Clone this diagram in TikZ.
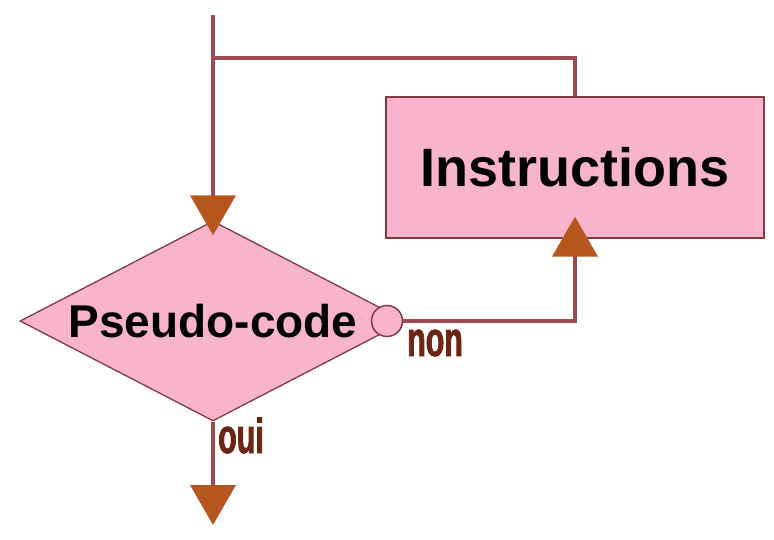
\documentclass[tikz,border=0pt]{standalone}
\usepackage{fontspec}
\setmainfont{Liberation Sans}
\newfontfamily\labelfont[FakeStretch=0.62,FakeBold=1.6]{Liberation Sans Bold}
\usetikzlibrary{shapes.geometric,arrows.meta}

\definecolor{boxpink}{HTML}{F8B4CC}
\definecolor{linerose}{HTML}{9E4A52}
\definecolor{tipbrown}{HTML}{B4561E}
\definecolor{labelbrown}{HTML}{6B2616}

\begin{document}
\begin{tikzpicture}[x=1pt,y=-1pt,
    decision/.style={diamond,draw=linerose!80!black,line width=1.3pt,fill=boxpink,
        aspect=1.93,inner sep=0pt,minimum width=386pt,minimum height=200pt,
        font=\fontsize{46}{50}\selectfont\bfseries},
    process/.style={rectangle,draw=linerose!80!black,line width=1.3pt,fill=boxpink,
        inner sep=0pt,minimum width=378pt,minimum height=141pt,
        font=\fontsize{54}{60}\selectfont\bfseries},
    exitdot/.style={circle,draw=linerose!80!black,line width=1.5pt,fill=boxpink,
        inner sep=0pt,minimum size=31pt},
    flowline/.style={draw=linerose,line width=4pt},
    flow/.style={flowline,-{Triangle[length=40pt,width=45pt,color=tipbrown]}},
    answer/.style={text=labelbrown,inner sep=0pt,anchor=base west,
        font=\labelfont\fontsize{49}{52}\selectfont}]

    % Frame
    \useasboundingbox (0,0) rectangle (774,540);

    % Boxes
    \node[decision] (pseudo) at (213,321) {Pseudo-code};
    \node[exitdot] (exit) at (387,321) {};
    \node[process] (instr) at (575,167.5) {Instructions};

    % Free ends
    \coordinate (start) at (213,15);
    \coordinate (merge) at (213,58);
    \coordinate (done) at (213,525);

    % Flow
    \draw[flow,shorten >=-15pt] (start) -- (pseudo.north);
    \draw[flowline] (instr.north) |- (merge);
    \draw[flow,shorten >=-22pt] (exit.east) -| (instr.south);
    \draw[flow] (pseudo.south) -- (done);

    % Labels
    \node[answer] (non) at (407,356) {non};
    \node[answer] (oui) at (218,453) {oui};
\end{tikzpicture}
\end{document}
